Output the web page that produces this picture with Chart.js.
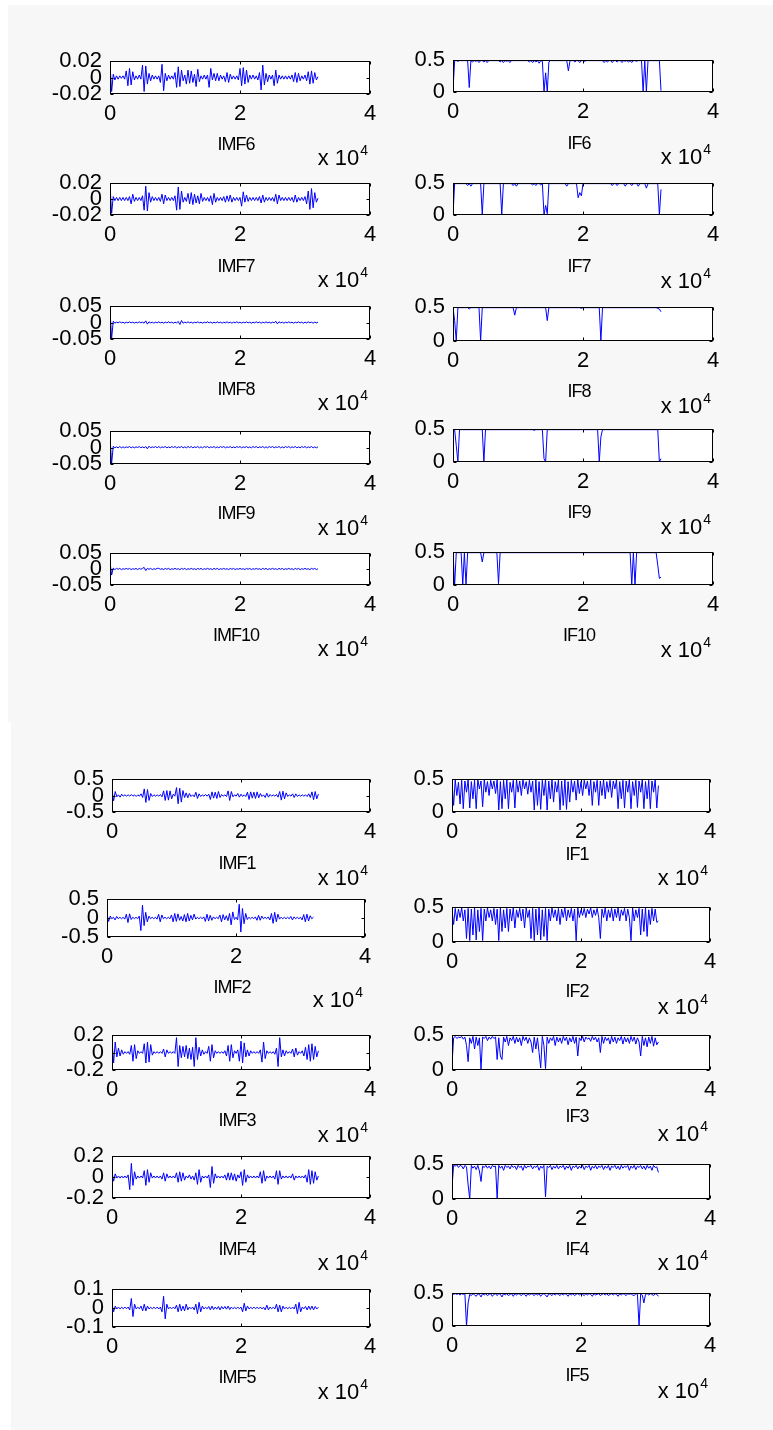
<!DOCTYPE html>
<html><head><meta charset="utf-8">
<script src="https://cdn.jsdelivr.net/npm/chart.js@4.4.1/dist/chart.umd.min.js"></script>
<style>
html,body{margin:0;padding:0;background:#fff;}
#page{position:relative;width:773px;height:1430px;overflow:hidden;background:#fff;}
.fig{position:absolute;background:#f7f7f7;}
.cell{position:absolute;}
.cell canvas{display:block;}
</style></head><body><div id="page">
<div class="fig" style="left:8px;top:5px;width:765px;height:717px"></div>
<div class="fig" style="left:11px;top:722px;width:762px;height:708px"></div>
</div>
<script>
// ---------- DATA ----------
const sampleIdx = [
0,250,500,750,1000,1250,1500,1750,2000,2250,
2500,2750,3000,3250,3500,3750,4000,4250,4500,4750,
5000,5250,5500,5750,6000,6250,6500,6750,7000,7250,
7500,7750,8000,8250,8500,8750,9000,9250,9500,9750,
10000,10250,10500,10750,11000,11250,11500,11750,12000,12250,
12500,12750,13000,13250,13500,13750,14000,14250,14500,14750,
15000,15250,15500,15750,16000,16250,16500,16750,17000,17250,
17500,17750,18000,18250,18500,18750,19000,19250,19500,19750,
20000,20250,20500,20750,21000,21250,21500,21750,22000,22250,
22500,22750,23000,23250,23500,23750,24000,24250,24500,24750,
25000,25250,25500,25750,26000,26250,26500,26750,27000,27250,
27500,27750,28000,28250,28500,28750,29000,29250,29500,29750,
30000,30250,30500,30750,31000,31250,31500,31750,32000];

const xTickValues = [0, 20000, 40000];
const xTickLabels = ['0', '2', '4'];
const ticksImf6 = [-0.02, 0, 0.02];
const ticksImf8 = [-0.05, 0, 0.05];
const ticksImf1 = [-0.5, 0, 0.5];
const ticksImf3 = [-0.2, 0, 0.2];
const ticksImf5 = [-0.1, 0, 0.1];
const ticksIF = [0, 0.5];

const imf6 = [
.016,-.017,.004,-.003,.002,-.002,.002,-.001,.002,-.002,
.008,-.010,.011,-.009,.007,-.003,.002,-.002,.003,-.002,
.015,-.017,.014,-.008,.005,-.004,.003,-.002,.002,-.002,
.002,-.006,.016,-.016,.005,-.004,.003,-.002,.002,-.002,
.006,-.012,.013,-.011,.009,-.004,.003,-.008,.009,-.007,
.008,-.006,.004,-.011,.010,-.005,.002,-.002,.003,-.002,
.003,-.012,.011,-.003,.005,-.004,.005,-.004,.003,-.002,
.002,-.005,.006,-.006,.004,-.002,.002,-.002,.002,-.003,
.011,-.010,.012,-.008,.009,-.006,.003,-.002,.003,-.002,
.002,-.003,.006,-.015,.015,-.009,.005,-.005,.003,-.002,
.003,-.010,.009,-.007,.003,-.002,.002,-.002,.002,-.002,
.002,-.002,.003,-.005,.006,-.006,.005,-.004,.002,-.002,
.003,-.004,.007,-.008,.008,-.007,.006,-.003,.001];

const imf7 = [
.017,-.018,.003,-.002,.002,-.002,.002,-.002,.002,-.002,
.002,-.002,.003,-.006,.006,-.003,.002,-.002,.002,-.002,
.004,-.014,.016,-.015,.008,-.004,.003,-.002,.002,-.002,
.002,-.003,.006,-.006,.005,-.002,.002,-.002,.002,-.002,
.004,-.014,.015,-.013,.010,-.004,.002,-.003,.007,-.006,
.008,-.007,.006,-.005,.004,-.006,.007,-.003,.002,-.002,
.002,-.003,.004,-.007,.007,-.004,.002,-.002,.002,-.002,
.003,-.004,.004,-.003,.005,-.004,.002,-.002,.002,-.002,
.002,-.009,.009,-.004,.005,-.003,.002,-.002,.002,-.002,
.002,-.002,.003,-.005,.005,-.004,.002,-.002,.002,-.002,
.002,-.003,.006,-.006,.005,-.002,.002,-.002,.002,-.002,
.002,-.002,.002,-.004,.005,-.004,.002,-.002,.002,-.002,
.003,-.006,.010,-.013,.013,-.011,.008,-.004,.001];

const imf8 = [
.037,-.048,.004,-.002,.001,-.001,.002,-.001,.001,-.002,
.001,-.001,.002,-.001,.001,-.002,.001,-.001,.002,-.001,
.001,-.002,.005,-.005,.002,-.001,.001,-.002,.001,-.001,
.002,-.001,.001,-.002,.001,-.001,.002,-.001,.001,-.002,
.001,-.001,.003,-.006,.006,-.002,.001,-.001,.002,-.001,
.001,-.002,.001,-.001,.002,-.001,.001,-.002,.001,-.001,
.002,-.001,.001,-.002,.001,-.001,.002,-.001,.001,-.002,
.001,-.001,.002,-.001,.001,-.002,.001,-.001,.002,-.001,
.001,-.002,.001,-.001,.002,-.001,.001,-.002,.001,-.001,
.002,-.001,.001,-.002,.001,-.001,.002,-.001,.001,-.002,
.001,-.001,.004,-.004,.002,-.001,.001,-.002,.001,-.001,
.002,-.001,.001,-.002,.001,-.001,.002,-.001,.001,-.002,
.001,-.001,.002,-.001,.001,-.002,.001,-.001,.001];

const imf9 = [
.033,-.048,.004,-.001,.002,-.001,.003,-.001,.002,-.001,
.002,.000,.003,-.001,.002,-.001,.002,.000,.003,-.001,
.002,-.001,.003,-.004,.004,-.001,.002,.000,.003,-.001,
.003,-.001,.002,.000,.003,-.001,.002,-.001,.003,.000,
.003,-.001,.002,.000,.003,-.001,.002,-.001,.003,.000,
.003,-.001,.002,.000,.003,-.001,.002,-.001,.003,.000,
.003,-.001,.002,.000,.003,-.001,.002,-.001,.003,.000,
.003,-.001,.002,.000,.003,-.001,.002,-.001,.003,.000,
.003,-.001,.002,.000,.003,-.001,.002,-.001,.003,.000,
.003,-.001,.002,.000,.003,-.001,.002,-.001,.003,.000,
.003,-.001,.002,.000,.003,-.001,.002,-.001,.003,.000,
.003,-.001,.002,.000,.003,-.001,.002,-.001,.003,.000,
.003,-.001,.002,.000,.003,-.001,.002,-.001,.002];

const imf10 = [
.022,-.019,.003,-.002,.002,-.001,.002,-.002,.001,-.001,
.002,-.001,.002,-.002,.001,-.001,.002,-.002,.002,-.001,
.002,.005,-.005,.002,-.001,.002,-.002,.001,-.001,.002,
.002,-.001,.001,-.002,.002,-.001,.002,-.002,.001,-.001,
.002,-.001,.001,-.002,.002,-.001,.002,-.002,.001,-.001,
.002,-.001,.001,-.002,.002,-.001,.002,-.002,.001,-.001,
.002,-.001,.001,-.002,.002,-.001,.002,-.002,.001,-.001,
.002,-.001,.001,-.002,.002,-.001,.002,-.002,.001,-.001,
.002,-.001,.001,-.002,.002,-.001,.002,-.002,.001,-.001,
.002,-.001,.001,-.002,.002,-.001,.002,-.002,.001,-.001,
.002,-.001,.001,-.002,.002,-.001,.002,-.002,.001,-.001,
.002,-.001,.001,-.002,.002,-.001,.002,-.002,.001,-.001,
.002,-.001,.001,-.002,.002,-.001,.002,-.002,.001];

const imf1 = [
.15,-.16,.12,-.04,.02,-.05,.04,-.02,.02,-.02,
.02,-.02,.03,-.02,.02,-.03,.02,-.02,.05,-.06,
.2,-.21,.18,-.15,.06,-.03,.02,-.02,.02,-.02,
.03,-.04,.14,-.15,.15,-.14,.14,-.1,.04,-.02,
.24,-.25,.22,-.2,.15,-.06,.08,-.07,.06,-.03,
.02,-.04,.1,-.09,.05,-.03,.02,-.02,.03,-.02,
.04,-.12,.11,-.08,.1,-.09,.12,-.06,.03,-.02,
.02,-.03,.14,-.15,.12,-.04,.02,-.02,.06,-.05,
.04,-.03,.02,-.03,.1,-.12,.11,-.08,.1,-.09,
.11,-.07,.06,-.03,.02,-.06,.07,-.05,.03,-.02,
.02,-.02,.03,-.05,.12,-.14,.13,-.1,.08,-.03,
.02,-.02,.05,-.06,.05,-.03,.02,-.02,.02,-.02,
.02,-.03,.05,-.06,.11,-.13,.12,-.1,.04];

const imf2 = [
.1,-.09,.05,-.02,.02,-.05,.04,-.02,.02,-.02,
.02,-.03,.1,-.12,.11,-.04,.02,-.02,.02,-.02,
.05,-.33,.34,-.2,.15,-.1,.05,-.02,.02,-.02,
.02,-.03,.1,-.1,.08,-.02,.02,-.02,.02,-.02,
.08,-.1,.12,-.09,.11,-.06,.04,-.08,.09,-.1,
.12,-.08,.07,-.05,.1,-.03,.02,-.02,.02,-.02,
.03,-.09,.1,-.08,.07,-.06,.03,-.02,.02,-.02,
.08,-.1,.09,-.05,.06,-.07,.12,-.18,.16,-.04,
.02,-.05,.36,-.37,.25,-.15,.12,-.04,.02,-.02,
.02,-.02,.03,-.06,.07,-.06,.05,-.02,.02,-.02,
.03,-.05,.12,-.14,.15,-.1,.1,-.03,.02,-.02,
.02,-.02,.02,-.02,.04,-.05,.03,-.02,.02,-.02,
.02,-.05,.09,-.1,.1,-.08,.06,-.02,.02];

const imf3 = [
.13,-.12,.12,-.05,.05,-.04,.03,-.02,.01,-.01,
.01,-.02,.08,-.1,.09,-.07,.02,-.01,.01,-.01,
.1,-.12,.12,-.11,.09,-.03,.01,-.01,.01,-.01,
.01,-.01,.04,-.05,.03,-.01,.01,-.01,.01,-.01,
.17,-.16,.08,-.06,.07,-.05,.08,-.07,.05,-.08,
.06,-.16,.17,-.08,.06,-.04,.03,-.02,.01,-.01,
.07,-.1,.09,-.06,.02,-.01,.01,-.01,.01,-.01,
.02,-.04,.08,-.1,.09,-.06,.02,-.01,.03,-.1,
.13,-.12,.11,-.05,.03,-.04,.02,-.01,.01,-.01,
.01,-.01,.03,-.11,.12,-.07,.02,-.01,.01,-.01,
.01,-.02,.05,-.16,.17,-.05,.03,-.04,.02,-.01,
.01,-.01,.04,-.05,.05,-.03,.01,-.01,.02,-.04,
.06,-.08,.09,-.1,.1,-.08,.07,-.05,.02];

const imf4 = [
.05,-.04,.03,-.01,.01,-.01,.01,-.01,.01,-.01,
.02,-.12,.13,-.08,.05,-.02,.01,-.01,.01,-.01,
.06,-.08,.07,-.05,.04,-.01,.01,-.01,.01,-.01,
.01,-.02,.04,-.04,.03,-.01,.01,-.01,.01,-.01,
.04,-.05,.05,-.04,.04,-.03,.01,-.01,.02,-.02,
.01,-.03,.04,-.07,.07,-.05,.01,-.01,.01,-.01,
.02,-.1,.1,-.06,.03,-.01,.01,-.01,.01,-.01,
.02,-.03,.04,-.03,.04,-.03,.03,-.04,.02,-.01,
.05,-.08,.07,-.05,.02,-.01,.01,-.01,.01,-.01,
.01,-.01,.05,-.06,.06,-.04,.01,-.01,.01,-.01,
.01,-.02,.06,-.07,.06,-.02,.01,-.01,.01,-.01,
.01,-.01,.03,-.03,.01,-.01,.01,-.01,.01,-.01,
.02,-.05,.07,-.07,.06,-.06,.05,-.03,.01];

const imf5 = [
.02,-.02,.01,-.005,.005,-.005,.004,-.004,.005,-.004,
.005,-.01,.05,-.045,.02,-.005,.004,-.004,.01,-.015,
.02,-.015,.01,-.005,.004,-.004,.004,-.004,.005,-.005,
.005,-.02,.062,-.057,.02,-.005,.004,-.004,.005,-.004,
.015,-.02,.02,-.015,.01,-.015,.02,-.01,.005,-.004,
.005,-.01,.02,-.03,.03,-.02,.01,-.005,.004,-.004,
.008,-.01,.01,-.008,.005,-.006,.008,-.01,.008,-.005,
.008,-.006,.01,-.008,.005,-.004,.004,-.004,.005,-.004,
.005,-.02,.025,-.015,.01,-.005,.004,-.004,.005,-.004,
.004,-.004,.005,-.005,.004,-.01,.015,-.01,.005,-.004,
.004,-.005,.02,-.02,.015,-.02,.01,-.005,.004,-.004,
.004,-.004,.005,-.005,.02,-.03,.03,-.02,.005,-.004,
.008,-.01,.01,-.008,.01,-.01,.008,-.005,.004];

const if6 = [
.02,.49,.49,.48,.49,.49,.49,.49,.49,.49,
.07,.49,.47,.49,.48,.49,.46,.49,.49,.47,
.49,.46,.49,.49,.49,.49,.49,.49,.49,.47,
.49,.46,.49,.48,.49,.46,.49,.49,.49,.49,
.49,.49,.49,.49,.49,.49,.49,.47,.49,.46,
.49,.47,.49,.45,.49,.48,.0,.30,.0,.47,
.49,.49,.49,.49,.49,.49,.49,.49,.49,.49,
.49,.33,.49,.49,.49,.47,.49,.49,.46,.49,
.49,.48,.49,.49,.49,.49,.49,.49,.49,.49,
.49,.49,.49,.46,.49,.47,.49,.49,.46,.49,
.49,.47,.49,.49,.46,.49,.48,.49,.47,.49,
.46,.49,.49,.48,.49,.49,.49,.0,.49,.0,
.49,.49,.49,.49,.49,.49,.49,.49,.02];

const if7 = [
.0,.49,.49,.49,.49,.49,.49,.49,.49,.46,
.49,.45,.49,.49,.49,.49,.49,.49,.0,.49,
.49,.49,.49,.49,.49,.49,.49,.49,.49,.49,
.0,.49,.49,.49,.49,.49,.49,.46,.49,.45,
.49,.49,.49,.49,.49,.49,.49,.49,.49,.47,
.49,.46,.49,.49,.47,.49,.0,.15,.02,.49,
.49,.49,.49,.49,.49,.49,.49,.49,.49,.49,
.45,.49,.49,.49,.49,.49,.49,.27,.35,.3,
.49,.49,.49,.49,.49,.49,.49,.49,.49,.49,
.49,.49,.49,.49,.49,.49,.49,.49,.46,.49,
.49,.46,.49,.49,.49,.49,.45,.49,.49,.49,
.46,.49,.49,.49,.45,.49,.49,.49,.49,.42,
.49,.49,.49,.49,.49,.49,.49,.0,.4];

const if8 = [
.49,.3,.0,.49,.49,.49,.49,.49,.49,.49,
.47,.49,.49,.49,.49,.49,.49,.0,.49,.49,
.49,.49,.49,.49,.49,.49,.49,.49,.49,.49,
.49,.49,.49,.49,.49,.49,.49,.49,.38,.49,
.49,.49,.49,.49,.49,.49,.49,.49,.49,.49,
.49,.49,.49,.49,.49,.49,.49,.49,.3,.49,
.49,.49,.49,.49,.49,.49,.49,.49,.49,.49,
.49,.49,.49,.49,.49,.49,.49,.49,.49,.48,
.49,.49,.49,.49,.49,.49,.49,.49,.49,.49,
.49,.0,.49,.49,.49,.49,.49,.49,.49,.49,
.49,.49,.49,.49,.49,.49,.49,.49,.49,.49,
.49,.49,.49,.49,.49,.49,.49,.49,.49,.49,
.49,.49,.49,.49,.49,.49,.48,.47,.43];

const if9 = [
.49,.49,.25,.0,.49,.49,.49,.49,.49,.49,
.49,.49,.49,.49,.49,.49,.49,.49,.49,.0,
.49,.49,.49,.49,.49,.49,.49,.49,.49,.49,
.49,.49,.49,.49,.49,.49,.49,.49,.49,.49,
.49,.49,.49,.49,.49,.49,.49,.49,.49,.49,
.48,.49,.49,.49,.49,.49,.05,.0,.49,.49,
.49,.49,.49,.49,.49,.49,.49,.49,.49,.49,
.49,.49,.49,.49,.49,.49,.49,.49,.49,.49,
.49,.49,.49,.49,.49,.49,.49,.49,.49,.49,
.0,.38,.49,.49,.49,.49,.49,.49,.49,.49,
.49,.49,.49,.49,.49,.49,.49,.49,.49,.49,
.49,.49,.49,.49,.49,.49,.49,.49,.49,.49,
.49,.49,.49,.49,.49,.49,.49,.0,.05];

const if10 = [
.49,.0,.49,.49,.49,.49,.0,.49,.0,.49,
.49,.49,.49,.49,.49,.49,.49,.49,.35,.49,
.49,.49,.49,.49,.49,.49,.49,.49,.02,.49,
.49,.49,.49,.49,.49,.49,.49,.49,.49,.49,
.49,.49,.49,.49,.49,.49,.49,.49,.49,.49,
.49,.49,.49,.49,.49,.49,.49,.49,.49,.49,
.49,.49,.49,.49,.49,.49,.49,.49,.49,.49,
.49,.49,.49,.49,.49,.49,.49,.49,.49,.49,
.49,.49,.49,.49,.49,.49,.49,.49,.49,.49,
.49,.49,.49,.49,.49,.49,.49,.49,.49,.49,
.49,.49,.49,.49,.49,.49,.49,.49,.49,.49,
.0,.49,.0,.49,.49,.49,.49,.49,.49,.49,
.49,.49,.49,.49,.49,.49,.3,.1,.12];

const if1 = [
.47,.1,.49,.25,.45,.12,.48,.05,.47,.3,
.49,.06,.46,.2,.48,.05,.49,.35,.47,.08,
.49,.3,.46,.25,.48,.35,.47,.28,.49,.03,
.46,.05,.48,.2,.49,.05,.45,.3,.48,.06,
.49,.3,.47,.25,.49,.35,.46,.27,.48,.3,
.47,.03,.49,.1,.46,.04,.48,.25,.49,.03,
.47,.2,.49,.15,.46,.3,.48,.03,.47,.1,
.49,.04,.46,.15,.48,.3,.47,.18,.49,.28,
.46,.25,.48,.35,.47,.25,.49,.1,.46,.3,
.48,.1,.47,.25,.49,.2,.46,.3,.48,.22,
.47,.35,.49,.05,.46,.2,.48,.06,.47,.3,
.49,.05,.46,.25,.48,.07,.47,.3,.49,.05,
.46,.2,.48,.05,.47,.3,.49,.06,.4];

const if2 = [
.46,.25,.48,.3,.47,.35,.49,.3,.46,.05,
.48,.02,.47,.1,.49,.03,.46,.15,.48,.02,
.47,.3,.49,.35,.46,.3,.48,.25,.47,.02,
.49,.15,.46,.2,.48,.15,.47,.3,.49,.2,
.46,.35,.48,.3,.47,.2,.49,.35,.46,.05,
.48,.02,.47,.1,.49,.03,.46,.08,.48,.02,
.47,.3,.49,.35,.46,.3,.48,.25,.47,.35,
.49,.3,.46,.35,.48,.3,.47,.02,.49,.35,
.46,.38,.48,.35,.47,.4,.49,.35,.46,.38,
.48,.35,.05,.47,.35,.49,.3,.46,.35,.48,
.3,.47,.35,.49,.3,.46,.38,.48,.3,.47,
.35,.02,.49,.3,.46,.35,.48,.1,.47,.15,
.49,.08,.46,.25,.48,.3,.47,.28,.3];

const if3 = [
.07,.46,.48,.45,.47,.46,.48,.44,.47,.35,
.12,.46,.38,.48,.3,.47,.35,.46,.0,.47,
.45,.48,.42,.47,.44,.48,.45,.47,.15,.46,
.2,.15,.47,.4,.48,.35,.46,.42,.48,.38,
.47,.4,.46,.35,.48,.42,.47,.38,.46,.4,
.25,.47,.3,.46,.25,.03,.48,.35,.02,.47,
.38,.46,.42,.48,.35,.47,.4,.46,.38,.48,
.42,.47,.36,.46,.4,.48,.38,.47,.2,.46,
.42,.48,.4,.47,.44,.46,.41,.48,.43,.47,
.4,.46,.25,.48,.38,.47,.42,.46,.37,.48,
.4,.47,.38,.46,.42,.48,.37,.47,.4,.46,
.38,.48,.41,.47,.37,.46,.4,.2,.48,.35,
.46,.33,.47,.38,.48,.34,.46,.36,.4];

const if4 = [
.17,.48,.47,.49,.45,.48,.47,.43,.48,.46,
.2,.0,.48,.44,.47,.42,.48,.4,.25,.47,
.45,.48,.44,.47,.43,.48,.46,.47,.0,.48,
.44,.47,.41,.48,.45,.47,.43,.48,.45,.47,
.42,.48,.45,.47,.41,.48,.44,.47,.46,.48,
.43,.47,.45,.48,.41,.47,.44,.48,.03,.47,
.45,.48,.42,.47,.44,.48,.43,.47,.45,.48,
.42,.47,.44,.48,.41,.47,.45,.48,.43,.47,
.44,.48,.42,.47,.45,.48,.41,.47,.44,.48,
.43,.47,.45,.48,.42,.47,.44,.48,.41,.47,
.45,.48,.43,.47,.42,.48,.44,.47,.45,.48,
.41,.47,.44,.48,.42,.47,.45,.48,.43,.47,
.42,.48,.44,.47,.41,.48,.45,.46,.38];

const if5 = [
.49,.48,.49,.48,.49,.47,.49,.48,.49,.0,
.35,.48,.46,.49,.47,.45,.49,.48,.44,.49,
.47,.49,.46,.48,.49,.45,.48,.49,.46,.49,
.48,.44,.49,.47,.49,.46,.48,.49,.45,.49,
.47,.49,.48,.46,.49,.48,.45,.49,.47,.49,
.48,.46,.49,.47,.49,.45,.48,.49,.47,.44,
.49,.48,.46,.49,.47,.49,.48,.46,.49,.47,
.49,.48,.45,.49,.47,.49,.46,.48,.49,.47,
.49,.48,.46,.49,.47,.49,.48,.45,.49,.47,
.48,.49,.46,.48,.49,.47,.49,.46,.48,.49,
.47,.49,.48,.45,.49,.47,.49,.48,.46,.49,
.48,.49,.47,.46,.49,.48,.0,.49,.47,.35,
.48,.49,.47,.49,.48,.46,.49,.48,.45];

// ---------- LAYOUT ----------
const PAD_L = 100, PAD_T = 30, PAD_R = 20, PAD_B = 82;
const panels = [
  {label:'IMF6',  series:imf6,  ticks:ticksImf6, box:[110,61,260,33],  lab:56, exp:71},
  {label:'IMF7',  series:imf7,  ticks:ticksImf6, box:[110,183,260,32], lab:57, exp:72},
  {label:'IMF8',  series:imf8,  ticks:ticksImf8, box:[110,306,260,33], lab:56, exp:71},
  {label:'IMF9',  series:imf9,  ticks:ticksImf8, box:[110,431,260,33], lab:55, exp:71},
  {label:'IMF10', series:imf10, ticks:ticksImf8, box:[110,553,260,32], lab:56, exp:71},
  {label:'IF6',   series:if6,   ticks:ticksIF,   box:[453,60,260,32],  lab:57, exp:72},
  {label:'IF7',   series:if7,   ticks:ticksIF,   box:[453,183,260,32], lab:57, exp:73},
  {label:'IF8',   series:if8,   ticks:ticksIF,   box:[453,307,260,34], lab:56, exp:72},
  {label:'IF9',   series:if9,   ticks:ticksIF,   box:[453,429,260,33], lab:56, exp:72},
  {label:'IF10',  series:if10,  ticks:ticksIF,   box:[453,552,260,33], lab:56, exp:72},
  {label:'IMF1',  series:imf1,  ticks:ticksImf1, box:[112,779,258,33], lab:57, exp:73},
  {label:'IMF2',  series:imf2,  ticks:ticksImf1, box:[107,899,258,38], lab:56, exp:70},
  {label:'IMF3',  series:imf3,  ticks:ticksImf3, box:[112,1035,258,35],lab:56, exp:72},
  {label:'IMF4',  series:imf4,  ticks:ticksImf3, box:[112,1156,258,42],lab:57, exp:72},
  {label:'IMF5',  series:imf5,  ticks:ticksImf5, box:[112,1289,258,38],lab:56, exp:72},
  {label:'IF1',   series:if1,   ticks:ticksIF,   box:[452,779,258,33], lab:48, exp:73},
  {label:'IF2',   series:if2,   ticks:ticksIF,   box:[452,907,258,35], lab:55, exp:72},
  {label:'IF3',   series:if3,   ticks:ticksIF,   box:[452,1035,258,35],lab:52, exp:71},
  {label:'IF4',   series:if4,   ticks:ticksIF,   box:[452,1164,258,35],lab:56, exp:71},
  {label:'IF5',   series:if5,   ticks:ticksIF,   box:[452,1293,258,33], lab:55, exp:72}
];

const TICK_FONT = {family: "'Liberation Sans', Arial, sans-serif", size: 22};

const matlabAxes = {
  id: 'matlabAxes',
  beforeDraw(chart) {
    const {ctx, chartArea: a} = chart;
    ctx.save();
    ctx.fillStyle = '#ffffff';
    ctx.fillRect(a.left, a.top, a.right - a.left, a.bottom - a.top);
    ctx.restore();
  },
  afterDraw(chart, args, opts) {
    const {ctx, chartArea: a, scales} = chart;
    const x = scales.x, y = scales.y;
    const L = Math.round(a.left) + 0.5, R = Math.round(a.right) - 0.5;
    const T = Math.round(a.top) + 0.5, B = Math.round(a.bottom) - 0.5;
    ctx.save();
    ctx.strokeStyle = '#000'; ctx.lineWidth = 1;
    ctx.beginPath();
    x.ticks.forEach(t => {
      const px = Math.round(x.getPixelForValue(t.value)) + 0.5;
      ctx.moveTo(px, B); ctx.lineTo(px, B - 3);
      ctx.moveTo(px, T); ctx.lineTo(px, T + 3);
    });
    y.ticks.forEach(t => {
      const py = Math.round(y.getPixelForValue(t.value)) + 0.5;
      ctx.moveTo(L, py); ctx.lineTo(L + 3, py);
      ctx.moveTo(R, py); ctx.lineTo(R - 3, py);
    });
    ctx.stroke();
    ctx.strokeRect(L, T, R - L, B - T);
    // axis label
    ctx.fillStyle = '#000';
    ctx.textBaseline = 'alphabetic';
    ctx.font = "18px 'Liberation Sans', Arial, sans-serif";
    try { ctx.letterSpacing = '-1px'; } catch(e) {}
    ctx.textAlign = 'center';
    ctx.fillText(opts.label, (a.left + a.right) / 2 - 4, a.bottom + opts.lab);
    try { ctx.letterSpacing = '0px'; } catch(e) {}
    // exponent "x 10^4"
    ctx.textAlign = 'left';
    ctx.font = "14px 'Liberation Sans', Arial, sans-serif";
    const w4 = ctx.measureText('4').width;
    ctx.font = "22px 'Liberation Sans', Arial, sans-serif";
    const wx = ctx.measureText('x 10').width;
    const xr = a.right - 2;
    const base = a.bottom + opts.exp;
    ctx.fillText('x 10', xr - w4 - 1 - wx, base);
    ctx.font = "14px 'Liberation Sans', Arial, sans-serif";
    ctx.fillText('4', xr - w4, base - 10);
    ctx.restore();
  }
};

const page = document.getElementById('page');
panels.forEach(p => {
  const [bl, bt, bw, bh] = p.box;
  const W = bw + PAD_L + PAD_R, H = bh + PAD_T + PAD_B;
  const cell = document.createElement('div');
  cell.className = 'cell';
  cell.style.left = (bl - PAD_L) + 'px';
  cell.style.top = (bt - PAD_T) + 'px';
  cell.style.width = W + 'px';
  cell.style.height = H + 'px';
  const cv = document.createElement('canvas');
  cv.width = W; cv.height = H;
  cv.style.width = W + 'px'; cv.style.height = H + 'px';
  cell.appendChild(cv);
  page.appendChild(cell);
  const yt = p.ticks;
  new Chart(cv, {
    type: 'line',
    data: { datasets: [{
      data: sampleIdx.map((s, i) => ({x: s, y: p.series[i]})),
      borderColor: '#0000ff', borderWidth: 1, pointRadius: 0, pointHoverRadius: 0,
      tension: 0, fill: false
    }]},
    options: {
      responsive: false, animation: false, devicePixelRatio: 1, events: [],
      layout: {padding: {left: 0, top: PAD_T, right: PAD_R, bottom: 0}},
      plugins: {
        legend: {display: false}, tooltip: {enabled: false},
        matlabAxes: {label: p.label, lab: p.lab, exp: p.exp}
      },
      scales: {
        x: {
          type: 'linear', min: xTickValues[0], max: xTickValues[xTickValues.length - 1],
          afterBuildTicks: s => { s.ticks = xTickValues.map(v => ({value: v})); },
          ticks: {callback: (v, i) => xTickLabels[i], font: TICK_FONT, color: '#000', padding: 7, maxRotation: 0, autoSkip: false},
          grid: {display: false, drawTicks: false}, border: {display: false},
          afterFit: s => { s.height = PAD_B; }
        },
        y: {
          type: 'linear', min: yt[0], max: yt[yt.length - 1],
          afterBuildTicks: s => { s.ticks = yt.map(v => ({value: v})); },
          ticks: {callback: v => String(v), font: TICK_FONT, color: '#000', padding: 8, autoSkip: false},
          grid: {display: false, drawTicks: false}, border: {display: false},
          afterFit: s => { s.width = PAD_L; }
        }
      }
    },
    plugins: [matlabAxes]
  });
});
</script></body></html>
